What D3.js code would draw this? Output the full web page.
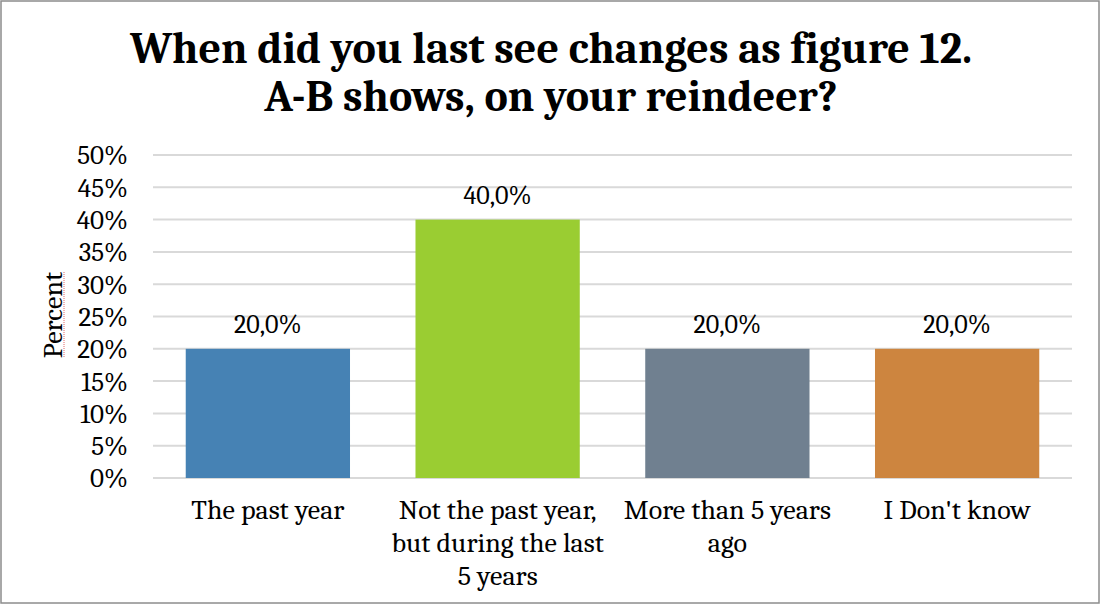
<!DOCTYPE html>
<html><head><meta charset="utf-8">
<script src="https://cdn.jsdelivr.net/npm/d3@7"></script>
<style>body{margin:0;background:#fff}svg{display:block}</style>
</head><body><svg id="c" width="1101" height="605"></svg>
<script>
const categories = [["The past year"], ["Not the past year,", "but during the last", "5 years"], ["More than 5 years", "ago"], ["I Don't know"]];
const values = [0.20, 0.40, 0.20, 0.20];
const valueLabels = ["20,0%", "40,0%", "20,0%", "20,0%"];
const colors = ["#4682B4", "#9ACD32", "#708090", "#CD853F"];
const yTicks = [0, 0.05, 0.10, 0.15, 0.20, 0.25, 0.30, 0.35, 0.40, 0.45, 0.50];
const titleLines = ["When did you last see changes as figure 12.", "A-B shows, on your reindeer?"];

const svg = d3.select("#c");
const font = "Cambria, 'Liberation Serif', 'DejaVu Serif', serif";
svg.append("rect").attr("x", 1).attr("y", 1).attr("width", 1098).attr("height", 602)
  .attr("fill", "#fff").attr("stroke", "#8c8c8c").attr("stroke-width", 1.5);

const m = {left: 153, right: 1072, top: 155, bottom: 478};
const x = d3.scaleBand().domain(d3.range(values.length)).range([m.left, m.right]).paddingInner(0.285).paddingOuter(0.1425);
const y = d3.scaleLinear().domain([0, 0.5]).range([m.bottom, m.top]);

// gridlines
svg.append("g").selectAll("line").data(yTicks).join("line")
  .attr("x1", m.left).attr("x2", m.right)
  .attr("y1", d => y(d)).attr("y2", d => y(d))
  .attr("stroke", "#d9d9d9").attr("stroke-width", 2);

// y axis labels
const yAxis = d3.axisLeft(y).tickValues(yTicks).tickFormat(d3.format(".0%")).tickSize(0).tickPadding(0);
const ga = svg.append("g").attr("transform", `translate(128,0)`).call(yAxis);
ga.select(".domain").remove();
ga.selectAll("text").attr("font-family", font).attr("font-size", 27).attr("fill", "#000").attr("dy", "0.33em");

// bars
svg.append("g").selectAll("rect").data(values).join("rect")
  .attr("x", (d, i) => x(i)).attr("width", x.bandwidth())
  .attr("y", d => y(d)).attr("height", d => y(0) - y(d))
  .attr("fill", (d, i) => colors[i]);

// value labels
svg.append("g").selectAll("text").data(values).join("text")
  .attr("x", (d, i) => x(i) + x.bandwidth() / 2).attr("y", d => y(d) - 16)
  .attr("text-anchor", "middle").attr("font-family", font).attr("font-size", 26)
  .text((d, i) => valueLabels[i]);

// category labels
const cg = svg.append("g");
categories.forEach((lines, i) => {
  const t = cg.append("text").attr("text-anchor", "middle").attr("font-family", font).attr("font-size", 28);
  lines.forEach((ln, j) => t.append("tspan").attr("x", x(i) + x.bandwidth() / 2).attr("y", 519 + j * 33).text(ln));
});

// axis title
svg.append("text").attr("transform", "translate(62,315) rotate(-90)").attr("text-anchor", "middle")
  .attr("font-family", font).attr("font-size", 28).text("Percent");
svg.append("line").attr("x1", 64).attr("x2", 64).attr("y1", 272).attr("y2", 358)
  .attr("stroke", "#e06666").attr("stroke-width", 1).attr("stroke-dasharray", "1,1");

// title
const tt = svg.append("text").attr("text-anchor", "middle").attr("font-family", font)
  .attr("font-size", 44).attr("font-weight", "bold");
titleLines.forEach((ln, j) => tt.append("tspan").attr("x", 551).attr("y", 63 + j * 48).text(ln));
</script></body></html>
